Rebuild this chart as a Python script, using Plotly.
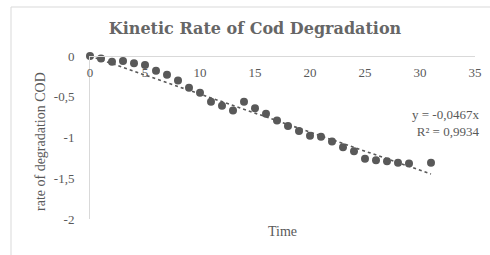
import plotly.graph_objects as go

time = [0, 1, 2, 3, 4, 5, 6, 7, 8, 9, 10, 11, 12, 13, 14, 15, 16, 17, 18, 19, 20,
        21, 22, 23, 24, 25, 26, 27, 28, 29, 31]
rate = [0.0, -0.03, -0.07, -0.06, -0.09, -0.11, -0.18, -0.23, -0.30, -0.39, -0.45,
        -0.56, -0.61, -0.67, -0.56, -0.64, -0.71, -0.79, -0.86, -0.92, -0.98,
        -0.99, -1.05, -1.12, -1.17, -1.26, -1.28, -1.29, -1.31, -1.32, -1.31]
slope = -0.0467
trend_x = [0, 31]
trend_y = [slope * v for v in trend_x]

x_ticks = [0, 5, 10, 15, 20, 25, 30, 35]
y_ticks = [0, -0.5, -1, -1.5, -2]
y_ticktext = ["0", "-0,5", "-1", "-1,5", "-2"]

GRAY = "#595959"
FONT = "Liberation Serif"

fig = go.Figure()
fig.add_trace(go.Scatter(x=trend_x, y=trend_y, mode="lines",
                         line=dict(color=GRAY, width=1.6, dash="dot"),
                         hoverinfo="skip", cliponaxis=False))
fig.add_trace(go.Scatter(x=time, y=rate, mode="markers",
                         marker=dict(color=GRAY, size=8),
                         cliponaxis=False))

fig.update_layout(
    width=490, height=255,
    margin=dict(l=90, r=15, t=56, b=36, autoexpand=False),
    paper_bgcolor="white", plot_bgcolor="white",
    showlegend=False,
    separators=", ",
    title=dict(text="<b>Kinetic Rate of Cod Degradation</b>",
               x=(255 - 90) / 385, xref="paper", xanchor="center",
               y=1 - 28 / 255, yref="container", yanchor="middle",
               font=dict(family="DejaVu Serif", size=16, color="#666666")),
    xaxis=dict(range=[0, 35], tickvals=x_ticks, side="bottom",
               anchor="free", position=1, automargin=False,
               showgrid=False, zeroline=False,
               showline=True, linecolor="#d9d9d9", linewidth=1, ticks="",
               ticklabelstandoff=4,
               tickfont=dict(family=FONT, size=13, color=GRAY),
               title=None),
    yaxis=dict(range=[-2, 0], tickvals=y_ticks, ticktext=y_ticktext,
               automargin=False,
               showgrid=False, zeroline=False, showline=True,
               linecolor="#d9d9d9", linewidth=1, ticks="",
               ticklabelstandoff=12,
               tickfont=dict(family=FONT, size=13, color=GRAY),
               title=None),
    annotations=[
        dict(text="rate of degradation COD", xref="paper", yref="paper",
             x=(40 - 90) / 385, y=(219 - 142) / 163, textangle=-90,
             xanchor="center", yanchor="middle", showarrow=False,
             font=dict(family=FONT, size=14, color=GRAY)),
        dict(text="Time", xref="paper", yref="paper",
             x=(282 - 90) / 385, y=(219 - 231) / 163,
             xanchor="center", yanchor="middle", showarrow=False,
             font=dict(family=FONT, size=14, color=GRAY)),
        dict(text="y = -0,0467x<br>R² = 0,9934", xref="paper", yref="paper",
             x=(481 - 90) / 385, y=(219 - 123) / 163, xanchor="right", yanchor="middle",
             align="right", showarrow=False,
             font=dict(family=FONT, size=13, color=GRAY)),
    ],
    shapes=[dict(type="rect", xref="paper", yref="paper",
                 x0=(11 - 90) / 385, x1=(500 - 90) / 385,
                 y0=(219 - 265) / 163, y1=(219 - 7) / 163,
                 line=dict(color="#d9d9d9", width=1), layer="below")],
)

fig.write_html("out.html", config={"displayModeBar": False},
               post_script="document.body.style.margin='0';")
